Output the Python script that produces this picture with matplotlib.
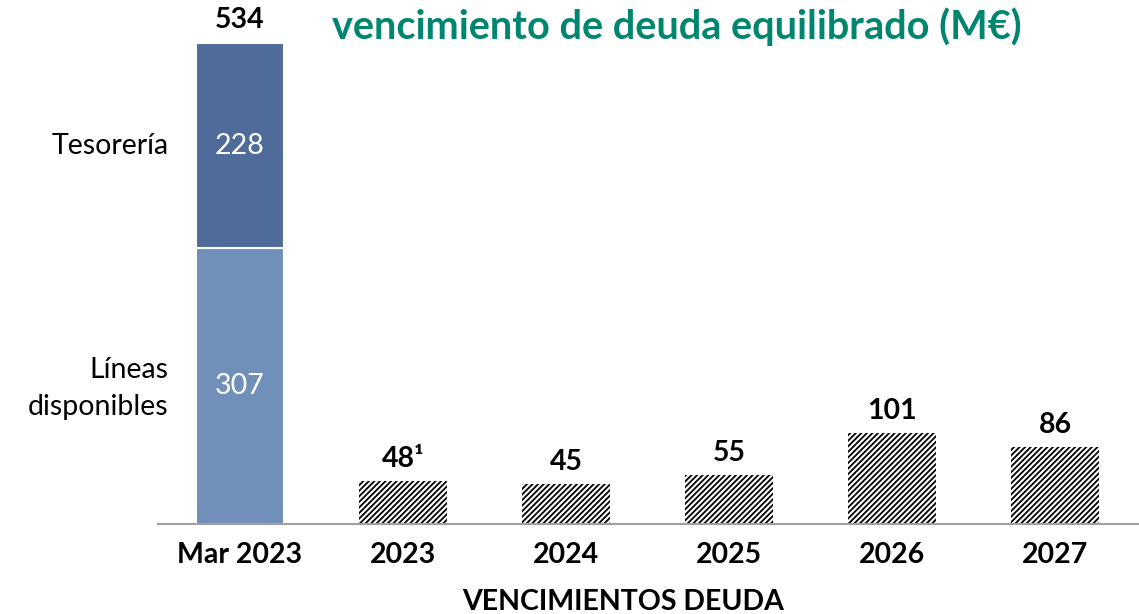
import matplotlib.pyplot as plt
import numpy as np

plt.rcParams['font.family'] = ['Lato', 'DejaVu Sans']

# stacked liquidity bar
lineas = 307
tesoreria = 228
total = 534

# debt maturities
years = ['2023', '2024', '2025', '2026', '2027']
vencimientos = [48, 45, 55, 101, 86]
venc_labels = ['48¹', '45', '55', '101', '86']

categories = ['Mar 2023'] + years

fig = plt.figure(figsize=(11.39, 6.14), dpi=100)
ax = fig.add_axes([158 / 1139, 90 / 614, 981 / 1139, 480 / 614])

x = np.arange(len(categories))
w = 0.54
c_low = '#7090BA'
c_top = '#4E6B9A'
fs = 20.5

ax.bar(x[0], lineas, w, color=c_low, edgecolor='white', linewidth=1.5)
ax.bar(x[0], tesoreria, w, bottom=lineas, color=c_top, edgecolor='white', linewidth=1.5)
ax.text(x[0], lineas / 2, str(lineas), ha='center', va='center', color='white', fontsize=fs)
ax.text(x[0], lineas + tesoreria / 2, str(tesoreria), ha='center', va='center', color='white', fontsize=fs)
ax.text(x[0], total + 12, str(total), ha='center', va='bottom', fontsize=fs,
        fontweight='bold', clip_on=False)

plt.rcParams['hatch.linewidth'] = 1.3
ax.bar(x[1:], vencimientos, w, color='white', edgecolor='black', hatch='//////', linewidth=0)
for xi, v, lab in zip(x[1:], vencimientos, venc_labels):
    ax.text(xi, v + 10, lab, ha='center', va='bottom', fontsize=fs, fontweight='bold')

ax.set_xlim(-0.503, 5.515)
ax.set_ylim(0, total)
for s in ['top', 'right', 'left']:
    ax.spines[s].set_visible(False)
ax.spines['bottom'].set_color('#A0A0A0')
ax.spines['bottom'].set_linewidth(1.5)
ax.set_yticks([])
ax.set_xticks(x)
ax.set_xticklabels(categories, fontsize=fs, fontweight='bold')
ax.tick_params(axis='x', length=0, pad=13)

ax.text(-0.44, lineas + tesoreria / 2, 'Tesorería', ha='right', va='center', fontsize=fs)
ax.text(-0.44, lineas / 2 - 3, 'Líneas\ndisponibles', ha='right', va='center',
        fontsize=fs, linespacing=1.5)

fig.text(623 / 1139, 1 - 602 / 614, 'VENCIMIENTOS DEUDA', ha='center', va='center',
         fontsize=fs, fontweight='bold')
fig.text(677 / 1139, 1 - 27 / 614, 'vencimiento de deuda equilibrado (M€)', ha='center',
         va='center', fontsize=28.5, fontweight='bold', color='#00866E')

fig.savefig('out.png', dpi=100)
